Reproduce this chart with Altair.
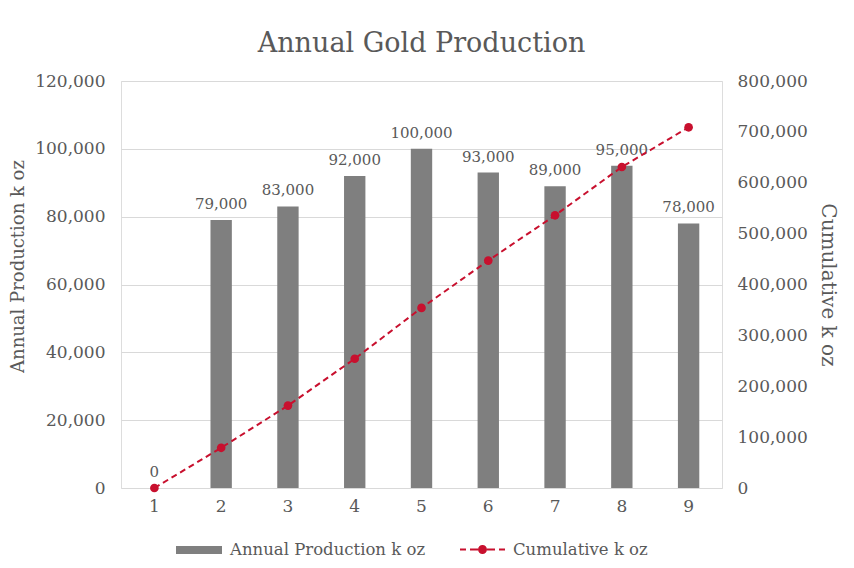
import altair as alt
import pandas as pd

years = [1, 2, 3, 4, 5, 6, 7, 8, 9]
annual = [0, 79000, 83000, 92000, 100000, 93000, 89000, 95000, 78000]
cumulative = [0, 79000, 162000, 254000, 354000, 447000, 536000, 631000, 709000]
series_bar = "Annual Production k oz"
series_line = "Cumulative k oz"

df = pd.DataFrame({
    "Year": years,
    "Annual": annual,
    "Cumulative": cumulative,
    "s1": [series_bar] * len(years),
    "s2": [series_line] * len(years),
})

FONT = "DejaVu Serif"
GREY_TXT = "#595959"
BAR = "#7f7f7f"
RED = "#c8102e"

x_enc = alt.X(
    "Year:O",
    scale=alt.Scale(paddingInner=0.68, paddingOuter=0.34),
    axis=alt.Axis(title=None, labelAngle=0, labelPadding=10, domain=False, ticks=False,
                  labelFontSize=17, labelColor=GREY_TXT, labelFont=FONT),
)

y_left = alt.Y(
    "Annual:Q",
    scale=alt.Scale(domain=[0, 120000], nice=False),
    axis=alt.Axis(title="Annual Production k oz", values=list(range(0, 120001, 20000)), format=",.0f",
                  domain=False, ticks=False, labelPadding=16, labelFontSize=17, labelColor=GREY_TXT,
                  titleFontSize=18, titleFontWeight="normal", titleColor=GREY_TXT, titlePadding=7,
                  titleY=185,
                  grid=True, gridColor="#d9d9d9", labelFont=FONT, titleFont=FONT),
)

y_right = alt.Y(
    "Cumulative:Q",
    scale=alt.Scale(domain=[0, 800000], nice=False),
    axis=alt.Axis(title="Cumulative k oz", orient="right", values=list(range(0, 800001, 100000)), format=",.0f",
                  domain=False, ticks=False, labelPadding=15, labelFontSize=17, labelColor=GREY_TXT,
                  titleFontSize=20, titleFontWeight="normal", titleColor=GREY_TXT, titlePadding=10,
                  grid=False, labelFont=FONT, titleFont=FONT),
)

bar_sym = "M-1,-0.174H1V0.174H-1Z"
line_sym = ("M-1,-0.044H-0.733V0.044H-1Z M-0.556,-0.044H-0.2V0.044H-0.556Z "
            "M0.2,-0.044H0.556V0.044H0.2Z M0.733,-0.044H1V0.044H0.733Z "
            "M0.2,0A0.2,0.2,0,1,1,-0.2,0A0.2,0.2,0,1,1,0.2,0Z")

bars = alt.Chart(df).mark_bar().encode(
    x=x_enc,
    y=y_left,
    fill=alt.Fill("s1:N", scale=alt.Scale(domain=[series_bar], range=[BAR]),
                  legend=alt.Legend(title=None, orient="none", legendX=55, legendY=446,
                                    symbolType=bar_sym, symbolSize=2116, labelFontSize=16.5,
                                    labelColor=GREY_TXT, labelFont=FONT, labelOffset=8, padding=0,
                                    labelLimit=400, symbolStrokeWidth=0)),
)

labels = alt.Chart(df).mark_text(baseline="bottom", dy=-8, fontSize=15, color=GREY_TXT, font=FONT).encode(
    x=x_enc,
    y=y_left,
    text=alt.Text("Annual:Q", format=",.0f"),
)

line = alt.Chart(df).mark_line(color=RED, strokeDash=[6, 4], strokeWidth=2).encode(
    x=x_enc,
    y=y_right,
)

points = alt.Chart(df).mark_circle(size=75, opacity=1).encode(
    x=x_enc,
    y=y_right,
    fill=alt.Fill("s2:N", scale=alt.Scale(domain=[series_line], range=[RED]),
                  legend=alt.Legend(title=None, orient="none", legendX=339, legendY=446,
                                    symbolType=line_sym, symbolSize=2025, labelFontSize=16.5,
                                    labelColor=GREY_TXT, labelFont=FONT, labelOffset=8, padding=0,
                                    labelLimit=400, symbolStrokeWidth=0)),
)

left = alt.layer(bars, labels)
right = alt.layer(line, points)

chart = alt.layer(left, right).resolve_scale(y="independent", fill="independent").properties(
    width=601,
    height=407,
    title=alt.TitleParams("Annual Gold Production", fontSize=27, font=FONT, fontWeight="normal",
                          color=GREY_TXT, anchor="middle", offset=14),
    autosize=alt.AutoSizeParams(type="none"),
    padding={"left": 113, "top": 73, "right": 122, "bottom": 70},
).configure_view(stroke=None).configure(font=FONT)

chart.save("out.html", embed_options={"renderer": "svg", "actions": False})
